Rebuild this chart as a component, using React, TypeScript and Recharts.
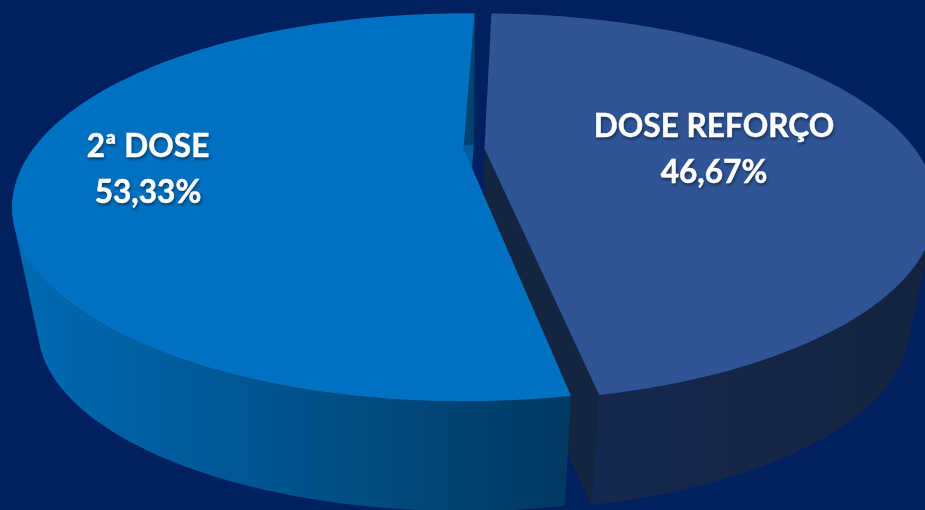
import { PieChart, Pie } from 'recharts';

const categories = ['DOSE REFORÇO', '2ª DOSE'];
const shares = [46.67, 53.33];
const percentLabels = ['46,67%', '53,33%'];

const data = categories.map((name, i) => ({ name, value: shares[i] }));

const BG = '#002060';
const FACE = ['#2F5597', '#0070C0'];
const INNER_WALL = ['#14253F', '#005E9F'];
const WALL_STOPS = [
  ['#16284F', '#14233F'],
  ['#006BB4', '#003A63'],
];
const WALL_RANGE = [[598, 925], [12, 565]];
// label centres relative to the pie centre
const LABEL_OFFSET = [[240, -11.5], [-326, 8]];
// the exploded slice sits slightly turned in the original
const TURN = [0.7, 0];

// look of the tilted disc
const SQUASH = 176 / 430;
const PERSP = 0.304;
const EXPLODE = 10.5;
const VANISH_X = 464;
const VANISH_Y = 2325;
const DEPTH_SCALE = 0.943;

type P = [number, number];

const Slice3D = (props: any) => {
  const { cx, cy, outerRadius, startAngle, endAngle, midAngle, index, name } = props;
  const i = index ?? categories.indexOf(name);
  const rad = Math.PI / 180;
  const ox = EXPLODE * Math.cos(midAngle * rad);

  const top = (a: number): P => {
    const u = Math.cos((a + TURN[i]) * rad);
    const v = Math.sin((a + TURN[i]) * rad);
    const d = 1 + PERSP * v;
    return [cx + ox + (outerRadius * u) / d, cy - (outerRadius * SQUASH * v) / d];
  };
  const down = (p: P): P => [
    VANISH_X + (p[0] - VANISH_X) * DEPTH_SCALE,
    VANISH_Y + (p[1] - VANISH_Y) * DEPTH_SCALE,
  ];
  const pt = (p: P) => `${p[0].toFixed(2)} ${p[1].toFixed(2)}`;

  const steps = 180;
  const angles: number[] = [];
  for (let s = 0; s <= steps; s++) angles.push(startAngle + ((endAngle - startAngle) * s) / steps);

  const apex: P = [cx + ox, cy];
  const face = `M${pt(apex)} ` + angles.map((a) => `L${pt(top(a))}`).join(' ') + ' Z';

  let wall = '';
  for (let s = 0; s < steps; s++) {
    const quad = [top(angles[s]), top(angles[s + 1])];
    quad.push(down(quad[1]), down(quad[0]));
    // keep every quad wound the same way so overlaps stay filled
    let area = 0;
    quad.forEach((p, n) => {
      const q = quad[(n + 1) % 4];
      area += p[0] * q[1] - q[0] * p[1];
    });
    if (area < 0) quad.reverse();
    wall += `M${quad.map(pt).join(' L')} Z `;
  }
  const edge = top(endAngle);
  const inner = `M${pt(apex)} L${pt(edge)} L${pt(down(edge))} L${pt(down(apex))} Z`;

  return (
    <g>
      <defs>
        <linearGradient
          id={`wall-${i}`}
          gradientUnits="userSpaceOnUse"
          x1={WALL_RANGE[i][0]}
          x2={WALL_RANGE[i][1]}
          y1={0}
          y2={0}
        >
          <stop offset="0%" stopColor={WALL_STOPS[i][0]} />
          <stop offset="100%" stopColor={WALL_STOPS[i][1]} />
        </linearGradient>
      </defs>
      <path d={inner} fill={INNER_WALL[i]} />
      <path d={wall} fill={`url(#wall-${i})`} />
      <path d={face} fill={FACE[i]} />
    </g>
  );
};

const SliceLabel = (props: any) => {
  const { cx, cy, index } = props;
  const x = cx + LABEL_OFFSET[index][0];
  const y = cy + LABEL_OFFSET[index][1];
  return (
    <text
      textAnchor="middle"
      fill="#FFFFFF"
      stroke="#FFFFFF"
      strokeWidth={0.5}
      fontFamily="Lato, sans-serif"
      fontWeight={700}
      fontSize={31.6}
      style={{ filter: 'drop-shadow(1px 2px 1.5px rgba(0,0,0,0.45))' }}
    >
      <tspan x={x} y={y}>{categories[index]}</tspan>
      <tspan x={x} y={y + 46}>{percentLabels[index]}</tspan>
    </text>
  );
};

export default function App() {
  return (
    <div style={{ position: 'fixed', left: 0, top: 0, width: 925, height: 510, background: BG, overflow: 'hidden' }}>
      <PieChart width={925} height={510} margin={{ top: 0, right: 0, bottom: 0, left: 0 }}>
        <Pie
          data={data}
          dataKey="value"
          nameKey="name"
          cx={474}
          cy={148.5}
          innerRadius={0}
          outerRadius={430}
          startAngle={88.1}
          endAngle={-271.9}
          stroke="none"
          shape={Slice3D}
          label={SliceLabel}
          labelLine={false}
          isAnimationActive={false}
        />
      </PieChart>
    </div>
  );
}
